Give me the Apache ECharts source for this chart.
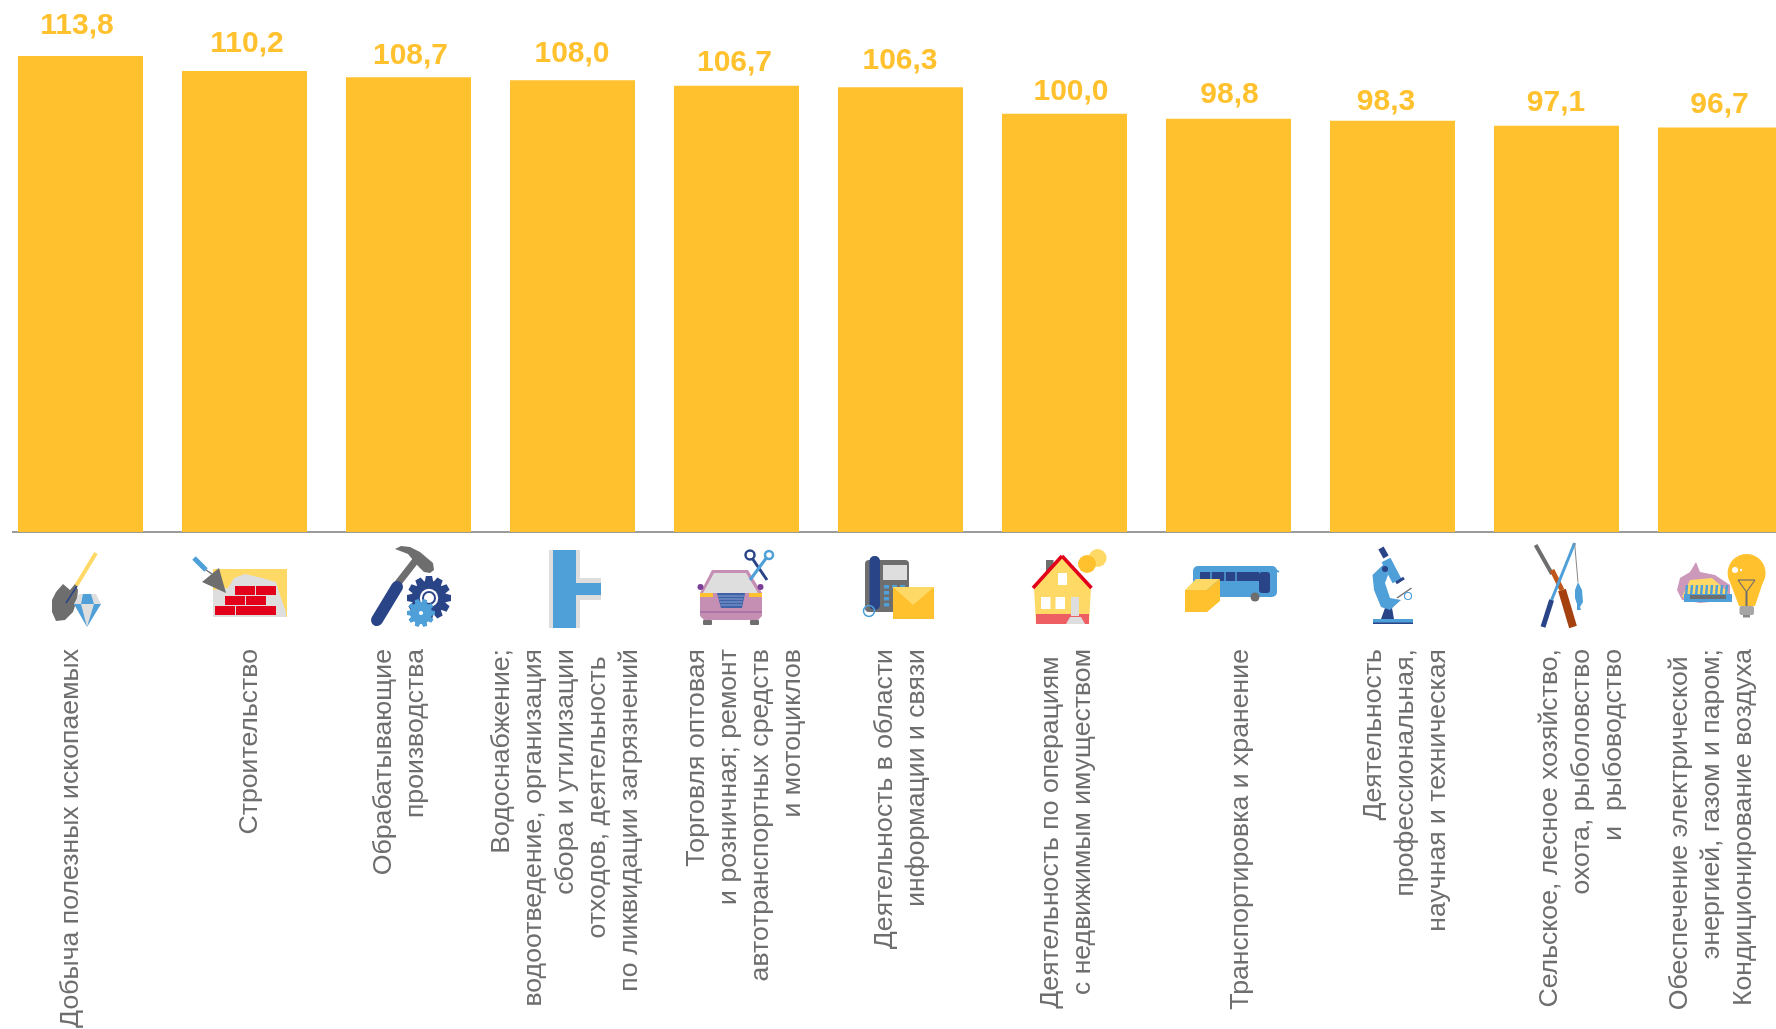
<!DOCTYPE html>
<html><head><meta charset="utf-8">
<style>html,body{margin:0;padding:0;background:#fff;overflow:hidden}#c{width:1776px;height:1029px}</style>
<script src="https://cdn.jsdelivr.net/npm/echarts@6/dist/echarts.min.js"></script>
</head><body><div id="c"></div>
<script>
const categories = [
 "Добыча полезных ископаемых",
 "Строительство",
 "Обрабатывающие\nпроизводства",
 "Водоснабжение;\nводоотведение, организация\nсбора и утилизации\nотходов, деятельность \nпо ликвидации загрязнений",
 "Торговля оптовая\nи розничная; ремонт\nавтотранспортных средств\nи мотоциклов",
 "Деятельность в области\nинформации и связи",
 "Деятельность по операциям \nс недвижимым имуществом",
 "Транспортировка и хранение",
 "Деятельность\nпрофессиональная,\nнаучная и техническая",
 "Сельское, лесное хозяйство,\nохота, рыболовство\nи  рыбоводство",
 "Обеспечение электрической \nэнергией, газом и паром;\nКондиционирование воздуха"
];
const values = [113.8,110.2,108.7,108.0,106.7,106.3,100.0,98.8,98.3,97.1,96.7];
// small hand placement of the texts, as in the reference
const labelShiftX = [-10,5.5,-8.5,-6.5,8.5,0,2.5,12.5,13.5,25,-8.5];
const valueShiftX = [-3.5,2.5,2,-0.5,-2,-0.5,6.5,1,-6.5,-0.5,-1];
const valueShiftY = [-10.5,-7,-2,-6,-3,-6.5,-1.5,-4,0.5,-3,-2.5];
const labelLineHeight = 32;

const Y='#FFC12E', YL='#FFD966', B='#4F9FD8', N='#2A4488', G='#6E6E6E', LG='#DEDEDE', R='#E2001A';
const P=(pts,fill)=>({type:'polygon',shape:{points:pts},style:{fill}});
const Rc=(x,y,w,h,fill,r)=>({type:'rect',shape:{x,y,width:w,height:h,r:r||0},style:{fill}});
const C=(cx,cy,r,fill)=>({type:'circle',shape:{cx,cy,r},style:{fill}});
const O=(cx,cy,r,stroke,w)=>({type:'circle',shape:{cx,cy,r},style:{fill:'none',stroke,lineWidth:w}});
const L=(x1,y1,x2,y2,stroke,w,cap)=>({type:'line',shape:{x1,y1,x2,y2},style:{stroke,lineWidth:w,lineCap:cap||'butt'}});
function gear(cx,cy,r,n,fill,hole){
  const out=[C(cx,cy,r*0.78,fill)];
  for(let i=0;i<n;i++){const a=i*2*Math.PI/n,d=r*0.2;
    const c=Math.cos(a),s=Math.sin(a),x=cx+c*r,y=cy+s*r,xi=cx+c*r*0.7,yi=cy+s*r*0.7;
    out.push(P([[x-s*d*.7,y+c*d*.7],[x+s*d*.7,y-c*d*.7],[xi+s*d,yi-c*d],[xi-s*d,yi+c*d]],fill));}
  out.push(C(cx,cy,r*hole,'#fff'));
  return out;
}
const icons = [
 [ // shovel and diamond
  L(96,553,76,586,YL,4),
  P([[63,584],[70,590],[75,584],[78,590],[77,600],[73,612],[65,620],[56,621],[52,612],[52,600],[56,592]],G),
  L(77,586,66,603,N,1.5),
  P([[79,594],[96,594],[101,604],[87,627],[74,604]],LG),
  P([[83,594],[91,594],[94,604],[81,604]],B),
  P([[74,604],[81,604],[87,627]],B),
  P([[94,604],[101,604],[87,627]],B)
 ],
 [ // bricks and trowel
  Rc(213,569,74,48,YL),
  P([[234,578],[245,574],[262,578],[276,582],[280,595],[286,612],[286,617],[213,617],[213,590],[228,588]],LG),
  Rc(235,586,20,9,R),Rc(256,586,20,9,R),
  Rc(225,596,20,9,R),Rc(246,596,20,9,R),
  Rc(215,606,20,9,R),Rc(236,606,20,9,R),Rc(256,606,20,9,R),
  P([[219,568],[202,582],[226,593]],G),
  L(194,558,206,570,B,5), L(206,570,212,574,G,1.5)
 ],
 [ // hammer and gears
  L(416,560,395,587,G,7),
  P([[395,549],[401,546],[410,547],[420,552],[433,563],[434,570],[430,573],[424,572],[418,566],[408,554]],G),
  L(397,587,377,620,N,12,'round'),
  ...gear(429,598,22,12,N,0.42),
  O(429,598,6,N,2),
  ...gear(421,613,14,10,B,0.15)
 ],
 [ // pipe
  Rc(549,550,31,78,LG), Rc(570,578,31,22,LG),
  Rc(553,550,23,78,B), Rc(576,583,25,12,B)
 ],
 [ // car and tools
  P([[712,570],[748,570],[762,593],[762,616],[758,620],[704,620],[700,616],[700,593]],'#C58FB4'),
  P([[714,573],[746,573],[758,593],[703,593]],LG),
  Rc(703,620,9,5,G,1), Rc(750,620,9,5,G,1),
  C(700.5,587,3,'#7B3F98'), C(760.5,587,3,'#7B3F98'),
  Rc(700,593,13,4,Y), Rc(749,593,13,4,Y),
  P([[717,593],[745,593],[742,608],[721,608]],'#3F62A8'),
  L(718,596,744,596,'#9DB3D6',0.8), L(719,599,743,599,'#9DB3D6',0.8), L(720,602,742.5,602,'#9DB3D6',0.8), L(720.5,605,742,605,'#9DB3D6',0.8),
  L(700,612,762,612,'#8E5A9A',1),
  L(752,558,767,580,N,3), O(750,555,4.5,N,2.5),
  L(767,557,750,580,B,3), O(769,555,4,B,2.5)
 ],
 [ // phone and envelope
  Rc(865,560,44,52,G,4),
  Rc(883,565,24,15,LG),
  Rc(884,585,5,3.5,B),Rc(892,585,5,3.5,B),Rc(900,585,5,3.5,B),
  Rc(884,591,5,3.5,B),Rc(884,597,5,3.5,B),Rc(884,603,5,3.5,B),
  Rc(869.5,556,10.5,54,N,5),
  O(869,611,5.5,B,1.5),
  Rc(893,587,41,32,Y),
  P([[893,587],[934,587],[913,605]],YL)
 ],
 [ // house and coins
  C(1097.6,558,9,YL), C(1087,564,9,Y),
  Rc(1046,560,7.5,18,G),
  P([[1062,556],[1091,588],[1089,624],[1036,624],[1034,588]],YL),
  L(1062,556,1033,588,R,3.5), L(1062,556,1091.5,588,R,3.5),
  Rc(1036,614,53,10,'#EE5F63'),
  Rc(1058,573,9,12,'#fff'), Rc(1041,597,9.5,12,'#fff'), Rc(1055.5,597,9.5,12,'#fff'),
  Rc(1071,597,8,19,LG),
  P([[1070,617],[1081,617],[1085,624],[1066,624]],LG)
 ],
 [ // bus and box
  Rc(1193,566,84,31,B,5),
  Rc(1200,572,59,9,N), Rc(1259,572,11,21,N,3),
  L(1225,572,1225,581,B,1.5), L(1211,572,1211,581,B,1.5), L(1236,572,1236,581,B,1.5),
  C(1255,597,4.5,G), L(1270,567,1279,572,B,2),
  P([[1185,590],[1196,579],[1220,579],[1207,590]],YL),
  Rc(1185,590,22,22,Y),
  P([[1207,590],[1220,579],[1220,601],[1207,612]],Y)
 ],
 [ // microscope
  Rc(1373,619,40,5,B), Rc(1373,622.5,40,1.5,N),
  P([[1381,619],[1385,608],[1392,608],[1394,619]],N),
  P([[1372.5,575],[1385,563],[1388,575],[1385,583],[1390,598],[1401,600],[1390,610],[1381,607],[1374,590]],B),
  L(1386,560,1397,581,B,10),
  L(1381,548,1386,557,N,6),
  C(1385,569,3,N),
  L(1396,583,1404,578,N,3),
  L(1397,598,1411.5,588,G,1.5),
  O(1408,596,3.5,B,1.2)
 ],
 [ // gun, fishing rod, fish
  L(1535.6,545,1552,574,G,4),
  L(1552,570,1562,590,'#C0561A',5),
  L(1562,590,1573,627,'#A5410F',8),
  L(1574.6,543,1551.6,600,B,3),
  L(1551.6,600,1543,627,N,5),
  L(1574.6,543,1578,582,'#888',1),
  P([[1578,582],[1582,590],[1583,602],[1580,607],[1581,610],[1577,610],[1577,604],[1575,598],[1575,590]],B)
 ],
 [ // burner and lightbulb
  P([[1696,562],[1700,572],[1715,575],[1730,585],[1730,600],[1700,603],[1682,600],[1677,590],[1680,578],[1690,572]],'#CC99BB'),
  P([[1682,597],[1690,580],[1712,578],[1728,592],[1728,600],[1700,602]],YL),
  L(1684,598,1732,598,B,8),
  ...[1686,1691,1696,1701,1706,1711,1716,1721,1726].map(x=>L(x,596,x+1,585,B,2.5)),
  L(1690,597,1726,597,G,4),
  C(1746.6,573,19,Y),
  P([[1730,582],[1763,582],[1755,606],[1739,606]],Y),
  Rc(1739.5,606,14.5,9,'#A6A6A6',2), Rc(1743,615,7,2.5,'#888'),
  L(1738,580,1755,580,G,1.2), L(1738,580,1746.5,592,G,1.2), L(1755,580,1746.5,592,G,1.2), L(1746.5,592,1746.5,606,G,2),
  C(1735,570,3,'#fff'), C(1741,570,1.2,'#fff')
 ]
];
const baselineRef = 532;
const catCenterRef = i => 80.5 + 164*i;

const chart = echarts.init(document.getElementById('c'));
chart.setOption({
  animation:false,
  backgroundColor:'#fff',
  grid:{left:-1.5,top:30,width:1804,height:502,containLabel:false,outerBoundsMode:'none'},
  xAxis:{
    type:'category',
    data:categories.map((c,i)=>{
      const blockH=c.split('\n').length*labelLineHeight;
      return {value:c,textStyle:{verticalAlign:'top',padding:[labelShiftX[i]-blockH/2,0,0,0]}};
    }),
    axisLine:{show:true,lineStyle:{color:'#7A7A7A',width:1.5}},
    axisTick:{show:false},
    axisLabel:{interval:0,rotate:90,margin:117,color:'#6E6E6E',fontFamily:'Liberation Sans',fontSize:26.67,lineHeight:labelLineHeight,align:'right',verticalAlign:'middle'}
  },
  yAxis:{type:'value',min:0,max:120,show:false},
  series:[
    {type:'bar',barWidth:125,itemStyle:{color:Y},
     data:values.map((v,i)=>({value:v,label:{offset:[valueShiftX[i],valueShiftY[i]]}})),
     label:{show:true,position:'top',color:Y,fontFamily:'Liberation Sans',fontWeight:'bold',fontSize:30,
       formatter:p=>p.value.toFixed(1).replace('.',',')}},
    {type:'custom',silent:true,clip:false,z:3,
     data:categories.map((_,i)=>[i,0]),
     renderItem:(params,api)=>{
       const i=params.dataIndex, pt=api.coord([i,0]);
       return {type:'group',x:pt[0]-catCenterRef(i),y:pt[1]-baselineRef,children:icons[i]};
     }}
  ],
  graphic:[{type:'rect',z:100,shape:{x:0,y:525,width:12,height:15},style:{fill:'#fff'}}]
});
</script></body></html>
